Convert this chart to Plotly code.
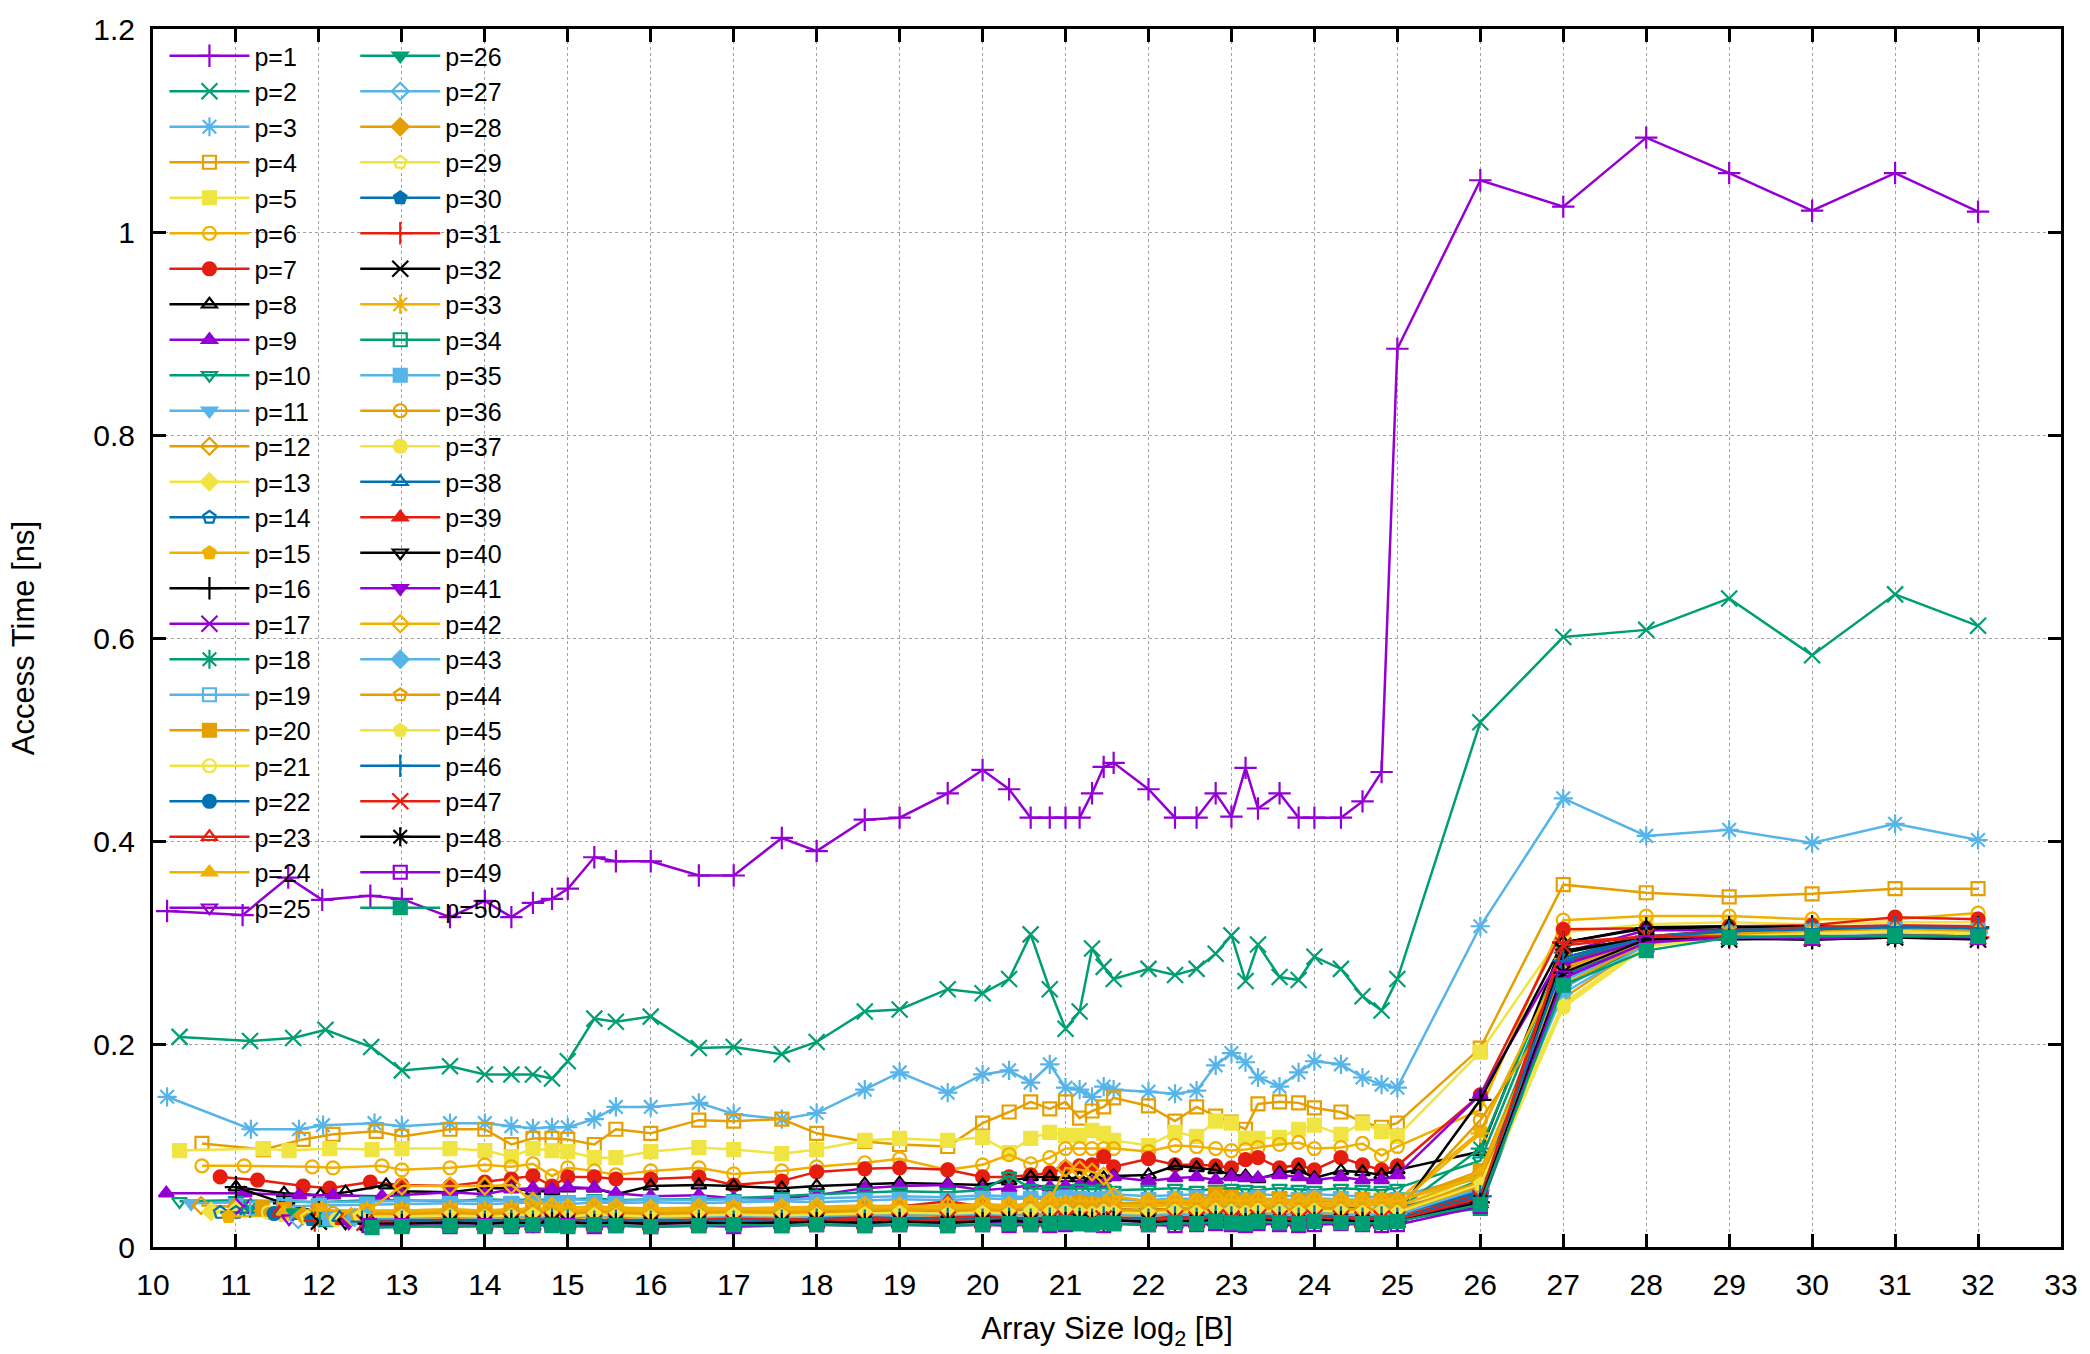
import plotly.graph_objects as go

# x positions (log2 of array size) shared by every series from 13 onwards
GRID_BODY = [13.0, 13.58, 14.0, 14.32, 14.58, 14.81, 15.0, 15.32, 15.58, 16.0,
             16.58, 17.0, 17.58, 18.0, 18.58, 19.0, 19.58, 20.0, 20.32, 20.58,
             20.81, 21.0, 21.17, 21.32, 21.46, 21.58, 22.0, 22.32, 22.58, 22.81,
             23.0, 23.17, 23.32, 23.58, 23.81, 24.0, 24.32, 24.58, 24.81, 25.0,
             26, 27, 28, 29, 30, 31, 32]

# first (smallest) sizes of each series, before the shared grid
X_HEAD = [
    [10.17, 11.08, 11.63, 12.04, 12.62],
    [10.32, 11.17, 11.69, 12.08, 12.63],
    [10.17, 11.18, 11.76, 12.05, 12.67],
    [10.59, 11.33, 11.81, 12.17, 12.69],
    [10.32, 11.33, 11.64, 12.13, 12.64],
    [10.59, 11.1, 11.92, 12.17, 12.76],
    [10.81, 11.26, 11.81, 12.13, 12.62],
    [11.0, 11.58, 12.02, 12.32, 12.81],
    [10.16, 11.1, 11.76, 12.17, 12.76],
    [10.32, 11.0, 11.58, 12.0, 12.58],
    [10.46, 11.0, 11.58, 12.0, 12.58],
    [10.58, 11.0, 11.58, 12.0, 12.58],
    [10.70, 11.0, 11.58, 12.0, 12.58],
    [10.81, 11.0, 11.58, 12.0, 12.58],
    [10.91, 11.58, 12.0, 12.58],
    [11.0, 11.58, 12.0, 12.58],
    [11.09, 11.58, 12.0, 12.58],
    [11.17, 11.58, 12.0, 12.58],
    [11.25, 11.58, 12.0, 12.58],
    [11.32, 11.58, 12.0, 12.58],
    [11.39, 11.58, 12.0, 12.58],
    [11.46, 12.0, 12.58],
    [11.52, 12.0, 12.58],
    [11.58, 12.0, 12.58],
    [11.64, 12.0, 12.58],
    [11.70, 12.0, 12.58],
    [11.75, 12.0, 12.58],
    [11.81, 12.0, 12.58],
    [11.86, 12.58],
    [11.91, 12.58],
    [11.95, 12.58],
    [12.0, 12.58],
    [12.04, 12.58],
    [12.09, 12.58],
    [12.13, 12.58],
    [12.17, 12.58],
    [12.21, 12.58],
    [12.25, 12.58],
    [12.29, 12.58],
    [12.32, 12.58],
    [12.36, 12.58],
    [12.39, 12.58],
    [12.43, 12.58],
    [12.46],
    [12.49],
    [12.52],
    [12.55],
    [12.58],
    [12.61],
    [12.64],
]

# access times in ns (head values followed by values on GRID_BODY)
Y01 = [0.331, 0.327, 0.364, 0.342, 0.346,
       0.343, 0.325, 0.341, 0.325, 0.339, 0.343, 0.353, 0.384, 0.380, 0.380,
       0.366, 0.366, 0.403, 0.390, 0.421, 0.423, 0.447, 0.470, 0.451, 0.423,
       0.423, 0.423, 0.423, 0.447, 0.473, 0.477, 0.451, 0.423, 0.423, 0.447,
       0.424, 0.472, 0.432, 0.447, 0.423, 0.423, 0.423, 0.439, 0.468, 0.885,
       1.051, 1.025, 1.093, 1.058, 1.021, 1.058, 1.020]
Y02 = [0.207, 0.203, 0.206, 0.214, 0.197,
       0.174, 0.178, 0.170, 0.170, 0.170, 0.166, 0.183, 0.225, 0.222, 0.227,
       0.196, 0.197, 0.190, 0.202, 0.232, 0.234, 0.254, 0.250, 0.264, 0.308,
       0.254, 0.215, 0.232, 0.294, 0.276, 0.264, 0.274, 0.268, 0.274, 0.289,
       0.307, 0.262, 0.298, 0.266, 0.263, 0.286, 0.274, 0.247, 0.233, 0.264,
       0.517, 0.601, 0.608, 0.639, 0.583, 0.643, 0.612]
Y03 = [0.148, 0.116, 0.116, 0.120, 0.122,
       0.119, 0.122, 0.122, 0.119, 0.117, 0.118, 0.118, 0.126, 0.138, 0.138,
       0.142, 0.131, 0.126, 0.132, 0.155, 0.172, 0.152, 0.170, 0.174, 0.162,
       0.180, 0.157, 0.155, 0.148, 0.158, 0.155, 0.153, 0.151, 0.154, 0.179,
       0.191, 0.182, 0.167, 0.158, 0.172, 0.183, 0.180, 0.167, 0.160, 0.157,
       0.316, 0.442, 0.405, 0.411, 0.398, 0.417, 0.401]
Y04 = [0.102, 0.096, 0.106, 0.111, 0.114,
       0.109, 0.116, 0.116, 0.101, 0.107, 0.107, 0.106, 0.101, 0.116, 0.112,
       0.125, 0.124, 0.126, 0.112, 0.104, 0.101, 0.099, 0.122, 0.133, 0.143,
       0.136, 0.143, 0.127, 0.134, 0.138, 0.147, 0.139, 0.124, 0.138, 0.129,
       0.123, 0.116, 0.141, 0.143, 0.142, 0.137, 0.133, 0.123, 0.118, 0.122,
       0.196, 0.357, 0.349, 0.345, 0.348, 0.353, 0.353]
Y05 = [0.095, 0.097, 0.095, 0.097, 0.096,
       0.097, 0.097, 0.095, 0.089, 0.097, 0.095, 0.094, 0.088, 0.088, 0.094,
       0.098, 0.096, 0.092, 0.096, 0.105, 0.107, 0.105, 0.108, 0.093, 0.107,
       0.113, 0.110, 0.110, 0.115, 0.112, 0.105, 0.100, 0.113, 0.109, 0.124,
       0.122, 0.107, 0.107, 0.108, 0.116, 0.120, 0.111, 0.122, 0.114, 0.109,
       0.192, 0.310, 0.318, 0.320, 0.318, 0.320, 0.320]
Y06 = [0.080, 0.080, 0.079, 0.078, 0.080,
       0.076, 0.078, 0.081, 0.079, 0.082, 0.070, 0.078, 0.075, 0.071, 0.075,
       0.078, 0.072, 0.075, 0.079, 0.083, 0.087, 0.076, 0.081, 0.091, 0.082,
       0.088, 0.097, 0.097, 0.097, 0.097, 0.097, 0.094, 0.100, 0.099, 0.097,
       0.095, 0.096, 0.098, 0.101, 0.103, 0.097, 0.098, 0.102, 0.090, 0.099,
       0.135, 0.322, 0.326, 0.326, 0.323, 0.323, 0.329]
Y07 = [0.069, 0.066, 0.060, 0.058, 0.064,
       0.061, 0.060, 0.064, 0.067, 0.070, 0.060, 0.069, 0.069, 0.067, 0.067,
       0.069, 0.061, 0.065, 0.074, 0.077, 0.078, 0.076, 0.069, 0.069, 0.071,
       0.073, 0.078, 0.080, 0.081, 0.089, 0.079, 0.087, 0.081, 0.081, 0.080,
       0.078, 0.086, 0.088, 0.078, 0.081, 0.076, 0.088, 0.081, 0.076, 0.080,
       0.150, 0.313, 0.314, 0.316, 0.317, 0.325, 0.323]
Y08 = [0.059, 0.053, 0.051, 0.054, 0.061,
       0.055, 0.054, 0.058, 0.058, 0.055, 0.055, 0.058, 0.058, 0.052, 0.060,
       0.061, 0.060, 0.058, 0.060, 0.062, 0.063, 0.062, 0.061, 0.065, 0.069,
       0.069, 0.068, 0.068, 0.067, 0.068, 0.070, 0.071, 0.080, 0.078, 0.076,
       0.071, 0.070, 0.067, 0.073, 0.076, 0.068, 0.075, 0.074, 0.071, 0.076,
       0.094, 0.300, 0.315, 0.316, 0.310, 0.314, 0.312]
Y09 = [0.053, 0.053, 0.051, 0.051, 0.050,
       0.051, 0.054, 0.052, 0.057, 0.058, 0.057, 0.059, 0.058, 0.053, 0.050,
       0.051, 0.048, 0.048, 0.051, 0.058, 0.060, 0.061, 0.056, 0.058, 0.061,
       0.059, 0.060, 0.061, 0.063, 0.062, 0.069, 0.065, 0.068, 0.069, 0.066,
       0.069, 0.068, 0.068, 0.071, 0.069, 0.066, 0.069, 0.066, 0.066, 0.071,
       0.150, 0.290, 0.312, 0.312, 0.310, 0.313, 0.315]
Y10 = [0.045, 0.046, 0.045, 0.044, 0.046,
       .046, .045, .047, .046, .047, .046, .047, .048, .046, .047,
       .047, .048, .050, .052, .054, .055, .054, .056, .070, .058,
       .057, .056, .058, .057, .058, .056, .057, .058, .056, .057,
       .058, .057, .056, .058, .057, .056, .058, .057, .056, .058,
       .085, .285, .305, .312, .315, .312, .310]
Y11 = [.043, .044, .045, .044, .045,
       .045, .046, .045, .046, .045, .046, .047, .046, .045, .047,
       .046, .047, .046, .048, .049, .050, .049, .051, .050, .049,
       .050, .052, .051, .050, .051, .052, .050, .051, .052, .050,
       .051, .050, .052, .051, .050, .052, .051, .050, .049, .050,
       .070, .280, .300, .310, .312, .314, .311]
Y12 = [.041, .040, .038, .036, .035,
       .036, .037, .036, .037, .036, .038, .037, .036, .037, .036,
       .037, .038, .037, .038, .040, .041, .040, .042, .041, .042,
       .043, .042, .043, .042, .041, .043, .042, .044, .043, .042,
       .043, .044, .042, .043, .044, .043, .042, .044, .043, .045,
       .072, .275, .305, .310, .312, .311, .313]
Y13 = [.035, .036, .034, .033, .032,
       .033, .034, .033, .034, .033, .035, .034, .033, .034, .035,
       .034, .035, .034, .035, .036, .038, .037, .036, .038, .037,
       .038, .037, .039, .038, .040, .039, .038, .040, .039, .041,
       .040, .039, .041, .040, .042, .041, .040, .042, .041, .040,
       .065, .270, .300, .308, .310, .312, .309]
Y14 = [.034, .034, .032, .031, .030,
       .031, .032, .031, .032, .033, .032, .031, .033, .032, .031,
       .032, .033, .032, .033, .034, .033, .035, .034, .035, .036,
       .035, .036, .037, .036, .035, .037, .036, .038, .037, .036,
       .037, .038, .036, .037, .038, .037, .039, .038, .037, .038,
       .060, .268, .302, .309, .311, .313, .310]
Y15 = [.030, .031, .030, .032,
       .032, .033, .034, .033, .034, .035, .034, .035, .034, .033,
       .034, .035, .036, .035, .037, .038, .037, .039, .038, .040,
       .039, .041, .040, .042, .041, .040, .043, .045, .044, .047,
       .045, .044, .046, .045, .047, .048, .046, .047, .045, .046,
       .114, .280, .305, .310, .314, .312, .311]
Y16 = [.059, .043, .034, .030,
       .029, .028, .029, .030, .029, .028, .029, .030, .029, .028,
       .029, .030, .029, .030, .031, .030, .031, .030, .031, .032,
       .031, .032, .031, .030, .032, .031, .032, .033, .032, .031,
       .032, .033, .032, .031, .033, .032, .031, .033, .032, .033,
       .145, .300, .314, .315, .316, .314, .315]
Y17 = [.040, .036, .032, .029,
       .028, .027, .028, .027, .028, .029, .028, .027, .028, .027,
       .028, .027, .028, .029, .028, .029, .028, .029, .030, .029,
       .028, .029, .030, .029, .028, .030, .029, .028, .029, .030,
       .029, .028, .030, .029, .028, .029, .030, .029, .028, .029,
       .062, .265, .298, .306, .305, .307, .306]
Y18 = [.038, .035, .033, .032,
       .032, .031, .032, .033, .032, .031, .032, .033, .032, .031,
       .032, .033, .034, .033, .034, .035, .034, .035, .036, .035,
       .036, .035, .036, .037, .036, .035, .037, .036, .037, .038,
       .037, .036, .038, .037, .036, .038, .037, .036, .037, .036,
       .097, .290, .304, .310, .312, .311, .310]
Y19 = [.038, .040, .041, .042,
       .042, .043, .042, .043, .044, .043, .042, .044, .043, .044,
       .043, .044, .045, .044, .046, .047, .046, .048, .047, .048,
       .047, .048, .047, .046, .048, .047, .046, .048, .047, .048,
       .047, .046, .048, .047, .046, .048, .047, .046, .045, .046,
       .068, .262, .302, .308, .310, .309, .308]
Y20 = [.039, .037, .036, .035,
       .035, .036, .035, .036, .037, .036, .035, .037, .036, .035,
       .036, .037, .036, .037, .038, .039, .038, .040, .039, .041,
       .042, .041, .043, .042, .041, .043, .044, .043, .045, .052,
       .049, .044, .046, .047, .045, .046, .044, .047, .046, .045,
       .075, .272, .300, .309, .312, .313, .311]
Y21 = [.034, .032, .031, .031,
       .031, .030, .031, .032, .031, .030, .031, .032, .031, .030,
       .031, .032, .031, .032, .033, .032, .033, .034, .033, .034,
       .035, .034, .035, .034, .033, .035, .034, .036, .035, .034,
       .035, .036, .034, .035, .036, .035, .034, .036, .035, .034,
       .058, .240, .298, .307, .309, .310, .308]
Y22 = [.033, .031, .030,
       .030, .031, .030, .031, .030, .032, .031, .030, .031, .032,
       .031, .030, .031, .032, .031, .032, .033, .032, .033, .032,
       .033, .034, .033, .032, .034, .033, .032, .034, .033, .035,
       .034, .033, .035, .034, .033, .035, .034, .033, .034, .035,
       .055, .278, .304, .311, .314, .315, .313]
Y23 = [.034, .032, .031,
       .031, .032, .031, .032, .031, .033, .032, .031, .032, .031,
       .032, .033, .034, .035, .038, .040, .045, .040, .038, .036,
       .035, .036, .037, .036, .035, .037, .036, .038, .037, .036,
       .037, .036, .038, .037, .036, .038, .037, .036, .037, .036,
       .060, .285, .306, .312, .315, .317, .316]
Y24 = [.035, .034, .033,
       .034, .035, .034, .035, .036, .035, .034, .036, .035, .034,
       .035, .036, .035, .036, .037, .038, .037, .039, .038, .040,
       .039, .040, .041, .040, .039, .041, .040, .042, .041, .040,
       .041, .042, .040, .041, .042, .041, .040, .042, .041, .040,
       .070, .276, .303, .309, .311, .312, .310]
Y25 = [.028, .027, .026,
       .026, .025, .026, .025, .026, .027, .026, .025, .026, .025,
       .026, .025, .026, .027, .026, .027, .026, .027, .026, .027,
       .026, .027, .028, .027, .026, .028, .027, .026, .027, .028,
       .027, .026, .028, .027, .026, .027, .028, .027, .026, .027,
       .050, .270, .300, .305, .304, .306, .305]
Y26 = [.034, .031, .029,
       .029, .030, .029, .030, .029, .031, .030, .029, .030, .031,
       .030, .031, .030, .031, .032, .031, .032, .033, .032, .031,
       .032, .033, .032, .031, .033, .032, .031, .033, .032, .034,
       .033, .032, .034, .033, .032, .034, .033, .032, .033, .032,
       .066, .282, .302, .310, .312, .311, .309]
Y27 = [.027, .029, .030,
       .030, .031, .030, .031, .030, .032, .031, .030, .031, .032,
       .031, .032, .031, .032, .033, .034, .033, .034, .033, .035,
       .034, .035, .034, .033, .035, .034, .033, .035, .034, .036,
       .035, .034, .036, .035, .034, .036, .035, .034, .035, .034,
       .056, .255, .300, .308, .311, .313, .312]
Y28 = [.031, .030, .029,
       .029, .030, .029, .030, .031, .030, .029, .031, .030, .029,
       .030, .031, .030, .031, .032, .033, .032, .033, .034, .033,
       .034, .035, .034, .033, .035, .036, .035, .037, .036, .038,
       .037, .036, .038, .037, .036, .038, .037, .036, .037, .036,
       .064, .274, .304, .310, .312, .314, .313]
Y29 = [.029, .028,
       .028, .029, .028, .029, .028, .030, .029, .028, .029, .028,
       .029, .030, .029, .030, .031, .030, .031, .032, .031, .030,
       .031, .032, .031, .030, .032, .031, .030, .032, .031, .033,
       .032, .031, .033, .032, .031, .033, .032, .031, .032, .031,
       .052, .262, .299, .307, .309, .310, .308]
Y30 = [.027, .027,
       .027, .028, .027, .028, .027, .029, .028, .027, .028, .027,
       .028, .029, .028, .029, .030, .029, .030, .031, .030, .029,
       .030, .031, .030, .029, .031, .030, .029, .031, .030, .032,
       .031, .030, .032, .031, .030, .032, .031, .030, .031, .030,
       .054, .268, .301, .308, .311, .312, .310]
Y31 = [.026, .026,
       .026, .027, .026, .027, .026, .028, .027, .026, .027, .026,
       .027, .026, .027, .028, .027, .028, .029, .028, .029, .028,
       .029, .030, .029, .028, .030, .029, .028, .030, .029, .031,
       .030, .029, .031, .030, .029, .031, .030, .029, .030, .029,
       .050, .300, .306, .305, .304, .306, .305]
Y32 = [.025, .025,
       .025, .026, .025, .026, .025, .027, .026, .025, .026, .025,
       .026, .025, .026, .027, .026, .027, .026, .027, .028, .027,
       .026, .027, .028, .027, .026, .028, .027, .026, .027, .028,
       .027, .026, .028, .027, .026, .027, .028, .027, .026, .027,
       .046, .292, .304, .303, .304, .305, .303]
Y33 = [.036, .036,
       .036, .037, .036, .037, .038, .037, .036, .038, .037, .036,
       .037, .038, .037, .038, .039, .040, .039, .041, .040, .042,
       .041, .042, .041, .040, .042, .041, .040, .042, .041, .043,
       .042, .041, .043, .042, .041, .043, .042, .041, .042, .041,
       .112, .284, .303, .309, .311, .312, .311]
Y34 = [.027, .026,
       .026, .025, .026, .027, .026, .025, .026, .027, .026, .025,
       .026, .027, .026, .027, .028, .027, .028, .029, .028, .027,
       .028, .029, .028, .027, .029, .028, .027, .029, .028, .029,
       .028, .027, .029, .028, .027, .029, .028, .027, .028, .027,
       .038, .258, .298, .306, .309, .310, .308]
Y35 = [.028, .028,
       .028, .029, .028, .029, .030, .029, .028, .030, .029, .028,
       .029, .030, .029, .030, .031, .032, .031, .032, .031, .033,
       .032, .033, .032, .031, .033, .032, .031, .033, .032, .034,
       .033, .032, .034, .033, .032, .034, .033, .032, .033, .032,
       .048, .262, .300, .308, .311, .313, .312]
Y36 = [.033, .033,
       .033, .034, .033, .034, .035, .034, .033, .035, .034, .033,
       .034, .035, .034, .035, .036, .037, .036, .037, .036, .038,
       .037, .038, .037, .036, .038, .037, .036, .038, .037, .039,
       .038, .037, .039, .038, .037, .039, .038, .037, .038, .037,
       .125, .245, .300, .308, .311, .312, .310]
Y37 = [.027, .027,
       .027, .028, .027, .028, .027, .029, .028, .027, .028, .027,
       .028, .027, .028, .029, .028, .029, .030, .029, .030, .029,
       .030, .031, .030, .029, .031, .030, .029, .031, .030, .032,
       .031, .030, .032, .031, .030, .032, .031, .030, .031, .030,
       .048, .236, .296, .306, .309, .310, .308]
Y38 = [.029, .029,
       .029, .030, .029, .030, .031, .030, .029, .031, .030, .029,
       .030, .031, .030, .031, .032, .031, .032, .033, .032, .031,
       .032, .033, .032, .031, .033, .032, .031, .033, .032, .034,
       .033, .032, .034, .033, .032, .034, .033, .032, .033, .032,
       .055, .285, .306, .312, .314, .316, .315]
Y39 = [.026, .026,
       .026, .027, .026, .027, .026, .028, .027, .026, .027, .026,
       .027, .028, .027, .028, .029, .028, .029, .030, .029, .028,
       .029, .030, .029, .028, .030, .029, .028, .030, .029, .031,
       .030, .029, .031, .030, .029, .031, .030, .029, .030, .029,
       .052, .280, .306, .311, .314, .316, .315]
Y40 = [.024, .024,
       .024, .025, .024, .025, .024, .026, .025, .024, .025, .024,
       .025, .024, .025, .026, .025, .026, .025, .026, .027, .026,
       .025, .026, .027, .026, .025, .027, .026, .025, .026, .027,
       .026, .025, .027, .026, .025, .026, .027, .026, .025, .026,
       .042, .290, .306, .304, .303, .305, .304]
Y41 = [.024, .024,
       .024, .023, .024, .023, .024, .025, .024, .023, .024, .023,
       .024, .023, .024, .025, .024, .025, .024, .025, .024, .025,
       .024, .025, .026, .025, .024, .026, .025, .024, .025, .026,
       .025, .024, .026, .025, .024, .025, .026, .025, .024, .025,
       .045, .278, .303, .306, .306, .307, .306]
Y42 = [.030, .035,
       .060, .060, .060, .061, .045, .040, .039, .040, .039, .038,
       .039, .038, .039, .040, .041, .040, .041, .042, .041, .042,
       .045, .078, .076, .074, .070, .050, .045, .046, .045, .047,
       .046, .045, .047, .046, .045, .047, .046, .045, .046, .045,
       .070, .270, .302, .309, .311, .312, .310]
Y43 = [.029, .029,
       .029, .030, .029, .030, .031, .030, .029, .031, .030, .029,
       .030, .031, .030, .031, .032, .031, .032, .033, .032, .031,
       .032, .033, .032, .031, .033, .032, .031, .033, .032, .034,
       .033, .032, .034, .033, .032, .034, .033, .032, .033, .032,
       .058, .250, .298, .307, .310, .311, .309]
Y44 = [.031,
       .031, .032, .031, .032, .033, .032, .031, .033, .032, .031,
       .032, .033, .032, .033, .034, .033, .034, .035, .034, .033,
       .034, .035, .034, .033, .035, .034, .033, .035, .034, .036,
       .035, .034, .036, .035, .034, .036, .035, .034, .035, .034,
       .060, .258, .300, .308, .311, .312, .310]
Y45 = [.030,
       .030, .031, .030, .031, .032, .031, .030, .032, .031, .030,
       .031, .032, .031, .032, .033, .034, .033, .034, .033, .035,
       .034, .035, .034, .033, .035, .034, .033, .035, .034, .036,
       .035, .034, .036, .035, .034, .036, .035, .034, .035, .034,
       .062, .238, .296, .306, .309, .311, .309]
Y46 = [.025,
       .025, .026, .025, .026, .025, .027, .026, .025, .026, .025,
       .026, .025, .026, .027, .026, .027, .028, .027, .028, .027,
       .028, .029, .028, .027, .029, .028, .027, .029, .028, .030,
       .029, .028, .030, .029, .028, .030, .029, .028, .029, .028,
       .050, .282, .305, .311, .313, .315, .314]
Y47 = [.024,
       .024, .025, .024, .025, .024, .026, .025, .024, .025, .024,
       .025, .024, .025, .026, .025, .026, .027, .026, .027, .026,
       .027, .028, .027, .026, .028, .027, .026, .028, .027, .029,
       .028, .027, .029, .028, .027, .029, .028, .027, .028, .027,
       .048, .297, .306, .306, .305, .307, .306]
Y48 = [.023,
       .023, .024, .023, .024, .023, .025, .024, .023, .024, .023,
       .024, .023, .024, .025, .024, .025, .024, .025, .026, .025,
       .024, .025, .026, .025, .024, .026, .025, .024, .025, .026,
       .025, .024, .026, .025, .024, .025, .026, .025, .024, .025,
       .044, .270, .303, .304, .303, .305, .304]
Y49 = [.021,
       .021, .020, .021, .020, .021, .022, .021, .020, .021, .020,
       .021, .020, .021, .022, .021, .022, .021, .022, .021, .022,
       .021, .022, .023, .022, .021, .023, .022, .021, .022, .023,
       .022, .021, .023, .022, .021, .022, .023, .022, .021, .022,
       .040, .265, .300, .305, .304, .306, .305]
Y50 = [.019,
       .020, .021, .020, .021, .022, .021, .020, .022, .021, .020,
       .021, .022, .021, .022, .021, .022, .021, .022, .023, .022,
       .023, .024, .023, .022, .024, .023, .022, .024, .023, .025,
       .024, .023, .025, .024, .023, .025, .024, .023, .024, .025,
       .042, .258, .292, .305, .306, .307, .306]

Y_ALL = [Y01, Y02, Y03, Y04, Y05, Y06, Y07, Y08, Y09, Y10,
         Y11, Y12, Y13, Y14, Y15, Y16, Y17, Y18, Y19, Y20,
         Y21, Y22, Y23, Y24, Y25, Y26, Y27, Y28, Y29, Y30,
         Y31, Y32, Y33, Y34, Y35, Y36, Y37, Y38, Y39, Y40,
         Y41, Y42, Y43, Y44, Y45, Y46, Y47, Y48, Y49, Y50]

PALETTE = {
    "purple": "#9400d3", "green": "#009e73", "lightblue": "#56b4e9",
    "orange": "#e69f00", "yellow": "#f0e442", "blue": "#0072b2",
    "red": "#e51e10", "black": "#000000", "gold": "#f0b000",
}
SERIES_COLORS = [
    "purple", "green", "lightblue", "orange", "yellow", "gold", "red", "black", "purple", "green",
    "lightblue", "orange", "yellow", "blue", "gold", "black", "purple", "green", "lightblue", "orange",
    "yellow", "blue", "red", "gold", "purple", "green", "lightblue", "orange", "yellow", "blue",
    "red", "black", "gold", "green", "lightblue", "orange", "yellow", "blue", "red", "black",
    "purple", "gold", "lightblue", "orange", "yellow", "blue", "red", "black", "purple", "green",
]
SYMBOLS = ["cross-thin-open", "x-thin-open", "asterisk-open", "square-open", "square",
           "circle-open", "circle", "triangle-up-open", "triangle-up", "triangle-down-open",
           "triangle-down", "diamond-open", "diamond", "pentagon-open", "pentagon"]

FONT = "Liberation Sans, Arial, Helvetica, sans-serif"

fig = go.Figure()
for i, ys in enumerate(Y_ALL):
    xs = X_HEAD[i] + GRID_BODY
    if len(xs) != len(ys):
        raise ValueError(f"series p={i + 1}: {len(xs)} x values vs {len(ys)} y values")
    color = PALETTE[SERIES_COLORS[i]]
    symbol = SYMBOLS[i % len(SYMBOLS)]
    thin = symbol.endswith("thin-open") or symbol.startswith("asterisk")
    fig.add_trace(go.Scatter(
        x=xs, y=ys, mode="lines+markers", name=f"p={i + 1}",
        legend="legend" if i < 25 else "legend2",
        line=dict(color=color, width=2.5),
        marker=dict(symbol=symbol, color=color, size=16 if thin else 13,
                    line=dict(color=color, width=2.2)),
    ))

axis_common = dict(
    showline=True, linewidth=3, linecolor="black", mirror="ticks",
    ticks="inside", ticklen=13, tickwidth=2.5, tickcolor="black",
    showgrid=True, gridcolor="#a0a0a0", griddash="dot", gridwidth=1,
    zeroline=False, tickfont=dict(family=FONT, size=30, color="black"),
)

legend_common = dict(
    yanchor="top", xanchor="left", bgcolor="rgba(0,0,0,0)",
    font=dict(family=FONT, size=25, color="black"),
    itemwidth=80, tracegroupgap=0, itemclick=False,
)

fig.update_layout(
    width=2090, height=1354,
    margin=dict(l=153, r=25, t=22, b=107),
    paper_bgcolor="white", plot_bgcolor="white",
    font=dict(family=FONT, size=30, color="black"),
    xaxis=dict(range=[10, 33], tick0=10, dtick=1, ticklabelstandoff=9,
               title=dict(text="Array Size log<sub>2</sub> [B]", standoff=18,
                          font=dict(family=FONT, size=31)),
               **axis_common),
    yaxis=dict(range=[0, 1.2], tick0=0, dtick=0.2, ticklabelstandoff=9,
               title=dict(text="Access Time [ns]", standoff=50,
                          font=dict(family=FONT, size=31)),
               **axis_common),
    legend=dict(x=0.006, y=0.9967, **legend_common),
    legend2=dict(x=0.106, y=0.9967, **legend_common),
)

fig.write_html("out.html")
